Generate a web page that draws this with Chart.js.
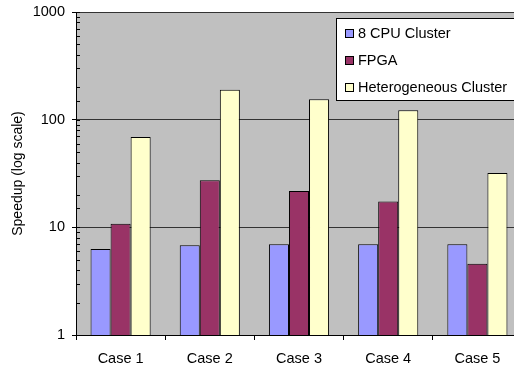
<!DOCTYPE html>
<html>
<head>
<meta charset="utf-8">
<script src="https://cdn.jsdelivr.net/npm/chart.js@4/dist/chart.umd.min.js"></script>
<style>
    html, body { margin: 0; padding: 0; background: #fff; overflow: hidden; }
    #wrap { width: 530px; height: 366px; }
</style>
</head>
<body>
<div id="wrap"><canvas id="speedupChart"></canvas></div>
<script>

const cases = ["Case 1", "Case 2", "Case 3", "Case 4", "Case 5"];

const cpuCluster = [6.3, 6.8, 6.95, 6.95, 6.95];
const fpga = [10.8, 27.3, 21.7, 17.4, 4.6];
const hetCluster = [69, 190, 155, 122, 32];

const seriesNames = ["8 CPU Cluster", "FPGA", "Heterogeneous Cluster"];
const seriesColors = ["#9999FF", "#993366", "#FFFFCC"];

const FONT = "'Liberation Sans', Arial, sans-serif";

function isMajor(v) {
    const l = Math.log10(v);
    return Math.abs(l - Math.round(l)) < 1e-9;
}

/* gray plot area */
const plotBackground = {
    id: "plotBackground",
    beforeDraw(chart) {
        const { ctx, chartArea: a } = chart;
        ctx.save();
        ctx.fillStyle = "#C0C0C0";
        ctx.fillRect(a.left, a.top, a.right - a.left, a.bottom - a.top);
        ctx.restore();
    }
};

/* small tick marks inside the plot, on the y axis */
const innerTicks = {
    id: "innerTicks",
    afterDraw(chart) {
        const { ctx } = chart;
        const y = chart.scales.y;
        ctx.save();
        ctx.strokeStyle = "#000";
        ctx.lineWidth = 1;
        y.ticks.forEach(t => {
            const py = Math.round(y.getPixelForValue(t.value)) + 0.5;
            ctx.beginPath();
            ctx.moveTo(y.right, py);
            ctx.lineTo(y.right + 4, py);
            ctx.stroke();
        });
        ctx.restore();
    }
};

/* legend box in the top right corner */
const boxLegend = {
    id: "boxLegend",
    afterDraw(chart) {
        const { ctx } = chart;
        const left = 336.5, top = 18.5;
        ctx.save();
        ctx.fillStyle = "#fff";
        ctx.strokeStyle = "#000";
        ctx.lineWidth = 1;
        ctx.fillRect(left, top, 220, 82);
        ctx.strokeRect(left, top, 220, 82);
        ctx.font = "14.5px " + FONT;
        ctx.textBaseline = "middle";
        chart.data.datasets.forEach((ds, i) => {
            const cy = 34 + i * 27;
            ctx.fillStyle = ds.backgroundColor;
            ctx.fillRect(345.5, cy - 4.5, 8, 8);
            ctx.strokeRect(345.5, cy - 4.5, 8, 8);
            ctx.fillStyle = "#000";
            ctx.fillText(ds.label, 358, cy);
        });
        ctx.restore();
    }
};

new Chart(
    document.getElementById("speedupChart"),
    {
        type: "bar",
        data: {
            labels: cases,
            datasets: [cpuCluster, fpga, hetCluster].map((d, i) => ({
                label: seriesNames[i],
                data: d,
                backgroundColor: seriesColors[i],
                borderColor: "#000",
                borderWidth: 1,
                barPercentage: 1,
                categoryPercentage: 0.674
            }))
        },
        options: {
            responsive: true,
            maintainAspectRatio: false,
            animation: false,
            layout: { padding: { top: 12, right: 8, left: 0, bottom: 0 } },
            plugins: {
                legend: { display: false },
                tooltip: { enabled: false }
            },
            scales: {
                x: {
                    grid: {
                        offset: true,
                        drawOnChartArea: false,
                        color: "#000",
                        tickLength: 5
                    },
                    border: { color: "#000" },
                    ticks: {
                        color: "#000",
                        font: { family: FONT, size: 14.5 },
                        padding: 10
                    },
                    afterFit(scale) { scale.height = 31; }
                },
                y: {
                    type: "logarithmic",
                    min: 1,
                    max: 1000,
                    border: { color: "#000" },
                    grid: {
                        color: c => isMajor(c.tick.value) ? "#333" : "rgba(0,0,0,0)",
                        tickColor: c => isMajor(c.tick.value) ? "#000" : "rgba(0,0,0,0)",
                        tickLength: 4
                    },
                    ticks: {
                        color: "#000",
                        font: { family: FONT, size: 14.5 },
                        padding: 7,
                        autoSkip: false,
                        callback: v => isMajor(v) ? String(v) : ""
                    },
                    title: {
                        display: true,
                        text: "Speedup (log scale)",
                        color: "#000",
                        font: { family: FONT, size: 14 },
                        padding: { top: 10, bottom: 0 }
                    },
                    afterFit(scale) {
                        scale.width = 76;
                        scale.paddingTop = 0;
                        scale.paddingBottom = 0;
                    }
                }
            }
        },
        plugins: [plotBackground, innerTicks, boxLegend]
    }
);

</script>
</body>
</html>
